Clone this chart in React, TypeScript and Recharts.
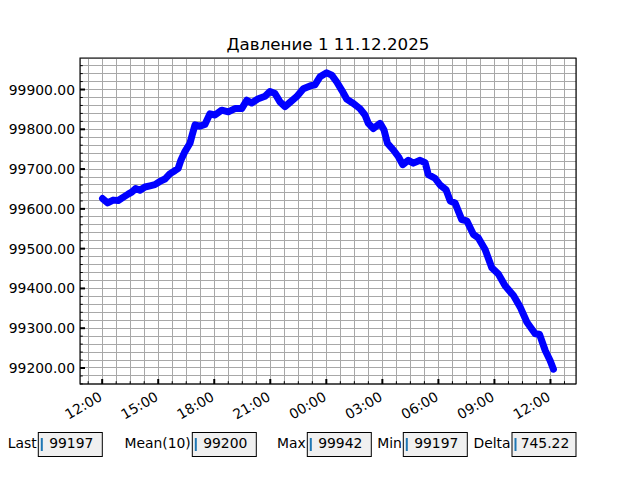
import React from "react";
import { LineChart, Line, XAxis, YAxis, CartesianGrid, ReferenceArea } from "recharts";

// hours since 12:00 on 11.12.2025
const hours = [
  0.02, 0.29, 0.59, 0.86, 1.12, 1.39, 1.58, 1.79, 2.02, 2.29,
  2.56, 2.82, 3.09, 3.36, 3.62, 3.89, 4.07, 4.22, 4.43, 4.7,
  4.82, 4.97, 5.23, 5.5, 5.77, 6.04, 6.4, 6.75, 7.11, 7.47,
  7.74, 8.0, 8.36, 8.72, 8.98, 9.25, 9.52, 9.79, 10.06, 10.41,
  10.77, 11.13, 11.39, 11.66, 12.02, 12.29, 12.56, 12.83, 13.09, 13.45,
  13.8, 14.07, 14.25, 14.52, 14.88, 15.09, 15.27, 15.59, 15.86, 16.09,
  16.39, 16.66, 17.02, 17.29, 17.46, 17.82, 18.09, 18.41, 18.63, 18.89,
  19.25, 19.52, 19.87, 20.14, 20.5, 20.86, 21.21, 21.57, 22.02, 22.38,
  22.74, 23.18, 23.41, 23.72, 23.98, 24.16,
];

const pressure = [
  99626, 99615, 99622, 99621, 99629, 99637, 99642, 99651, 99647, 99655,
  99658, 99661, 99669, 99675, 99688, 99696, 99702, 99723, 99744, 99765,
  99786, 99811, 99808, 99812, 99839, 99836, 99848, 99844, 99852, 99852,
  99873, 99866, 99877, 99883, 99895, 99890, 99869, 99857, 99868, 99882,
  99902, 99909, 99912, 99932, 99942, 99936, 99919, 99898, 99876, 99865,
  99852, 99836, 99815, 99802, 99815, 99798, 99765, 99748, 99731, 99711,
  99722, 99715, 99722, 99716, 99686, 99677, 99660, 99648, 99620, 99615,
  99573, 99570, 99536, 99527, 99498, 99452, 99436, 99407, 99382, 99353,
  99315, 99286, 99285, 99244, 99219, 99197,
];

const xTickLabels = ["12:00", "15:00", "18:00", "21:00", "00:00", "03:00", "06:00", "09:00", "12:00"];

const statLabels = ["Last", "Mean(10)", "Max", "Min", "Delta"];
const statValues = ["99197", "99200", "99942", "99197", "745.22"];

const title = "Давление 1 11.12.2025";

const FONT = "DejaVu Sans, sans-serif";

const data = hours.map((h, i) => ({ t: h, p: pressure[i] }));

// matplotlib style 5% margins
const tMin = Math.min(...hours), tMax = Math.max(...hours);
const pMin = Math.min(...pressure), pMax = Math.max(...pressure);
const xDomain = [tMin - 0.05 * (tMax - tMin), tMax + 0.05 * (tMax - tMin)];
const yDomain = [pMin - 0.05 * (pMax - pMin), pMax + 0.05 * (pMax - pMin)];

// major every 3h, minor every 45 min
const xTicks: number[] = [];
for (let k = -1; k <= 33; k++) xTicks.push(k * 0.75);
const yTicks: number[] = [];
for (let v = 99160; v <= 99960; v += 20) yTicks.push(v);

const isMajorX = (v: number) => Math.abs(v / 3 - Math.round(v / 3)) < 1e-6;

const XTick = (props: any) => {
  const { x, y, payload } = props;
  const axisY = y; // tickMargin 0
  const v = payload.value;
  const major = isMajorX(v);
  const idx = Math.round(v / 3);
  return (
    <g>
      <line x1={x} x2={x} y1={axisY} y2={axisY - (major ? 5 : 2.8)} stroke="#000" strokeWidth={major ? 2 : 1} />
      {major && idx >= 0 && idx < xTickLabels.length && (
        <text
          x={x - 4}
          y={axisY + 7}
          dy={10}
          textAnchor="end"
          transform={`rotate(-30, ${x - 4}, ${axisY + 7})`}
          fontFamily={FONT}
          fontSize={13.9}
          fill="#000"
        >
          {xTickLabels[idx]}
        </text>
      )}
    </g>
  );
};

const YTick = (props: any) => {
  const { x, y, payload } = props;
  const axisX = x + 5; // tickMargin 5
  const v = payload.value;
  const major = v % 100 === 0;
  return (
    <g>
      <line x1={axisX} x2={axisX + (major ? 5 : 2.8)} y1={y} y2={y} stroke="#000" strokeWidth={major ? 2 : 1} />
      {major && (
        <text x={x} y={y} dy={5} textAnchor="end" fontFamily={FONT} fontSize={13.9} fill="#000">
          {v.toFixed(2)}
        </text>
      )}
    </g>
  );
};

const boxLefts = [38.3, 192.3, 307.3, 403.3, 512];
const BOX_W = 64;

export default function App() {
  return (
    <div style={{ position: "absolute", left: 0, top: 0, width: 640, height: 480, background: "#fff" }}>
      <LineChart width={640} height={480} data={data} margin={{ top: 58, right: 64, bottom: 46, left: 0 }}>
        <CartesianGrid stroke="#a8a8a8" strokeWidth={1} shapeRendering="crispEdges" />
        <XAxis
          dataKey="t"
          type="number"
          domain={xDomain}
          ticks={xTicks}
          interval={0}
          allowDataOverflow
          height={50}
          tickSize={0}
          tickMargin={0}
          tickLine={false}
          axisLine={false}
          tick={<XTick />}
        />
        <YAxis
          type="number"
          domain={yDomain}
          ticks={yTicks}
          interval={0}
          allowDataOverflow
          width={80}
          tickSize={0}
          tickMargin={5}
          tickLine={false}
          axisLine={false}
          tick={<YTick />}
        />
        <Line
          type="linear"
          dataKey="p"
          stroke="#0000ff"
          strokeWidth={7}
          strokeLinecap="round"
          strokeLinejoin="round"
          dot={false}
          isAnimationActive={false}
        />
        <ReferenceArea
          x1={xDomain[0]}
          x2={xDomain[1]}
          y1={yDomain[0]}
          y2={yDomain[1]}
          fill="none"
          fillOpacity={0}
          stroke="#000"
          strokeWidth={1.1}
          ifOverflow="visible"
        />
      </LineChart>
      <svg width={640} height={480} style={{ position: "absolute", left: 0, top: 0, pointerEvents: "none" }}>
        <text x={328} y={49.5} textAnchor="middle" fontFamily={FONT} fontSize={16.7} fill="#000">
          {title}
        </text>
        {statLabels.map((label, i) => {
          const left = boxLefts[i];
          return (
            <g key={label}>
              <text x={left - 1.5} y={448.3} textAnchor="end" fontFamily={FONT} fontSize={13.9} fill="#000">
                {label}
              </text>
              <rect x={left} y={432.5} width={BOX_W} height={24} fill="#f0f0f0" stroke="#000" strokeWidth={1} />
              <line x1={left + 3.5} x2={left + 3.5} y1={438} y2={451} stroke="#1f77b4" strokeWidth={2} />
              <text x={left + BOX_W / 2 + 1} y={448.3} textAnchor="middle" fontFamily={FONT} fontSize={13.9} fill="#000">
                {statValues[i]}
              </text>
            </g>
          );
        })}
      </svg>
    </div>
  );
}
